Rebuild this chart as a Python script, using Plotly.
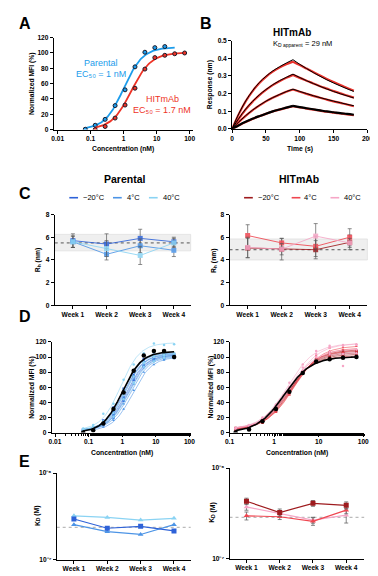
import numpy as np
import plotly.graph_objects as go

W, H = 378, 576
def px(x): return x / W
def py(y): return 1 - y / H

FONT = "Liberation Sans, Arial, sans-serif"
TICKFONT = dict(family=FONT, size=6.6, color="black", weight="bold")

# ---------------- Panel A ----------------
A_CONC_PARENTAL = [0.0686, 0.137, 0.274, 0.549, 1.10, 2.20, 4.39, 8.78, 17.6]
A_MFI_PARENTAL = [0.4, 5.6, 13.3, 31.3, 51.9, 81.9, 101.0, 107.0, 108.4]
A_CONC_HIT = [0.137, 0.274, 0.549, 1.10, 2.20, 4.39, 8.78, 17.6, 35.1, 70.2]
A_MFI_HIT = [0.0, 4.0, 15.0, 32.0, 54.0, 79.0, 94.0, 97.0, 99.0, 100.0]
# fitted curve parameters: ec50, top, bottom, hill, x-start, x-end
A_FIT_PARENTAL = [1.0, 107.5, 0.0, 1.5, 0.0686, 35.1]
A_FIT_HIT = [1.7, 100.5, 0.0, 1.45, 0.137, 70.2]

# ---------------- Panel B ----------------
B_T_ASSOC = [0, 10, 20, 30, 40, 50, 60, 70, 80, 90]
B_T_DISSOC = [90, 100, 110, 120, 130, 140, 150, 160, 170, 180]
B_FIT_ASSOC = [
    [0, 0.087, 0.158, 0.215, 0.262, 0.298, 0.328, 0.352, 0.373, 0.392],
    [0, 0.060, 0.112, 0.155, 0.192, 0.223, 0.250, 0.273, 0.292, 0.310],
    [0, 0.040, 0.075, 0.106, 0.133, 0.157, 0.177, 0.195, 0.211, 0.225],
    [0, 0.021, 0.040, 0.057, 0.072, 0.086, 0.099, 0.110, 0.120, 0.130],
]
B_FIT_DISSOC = [
    [0.392, 0.366, 0.342, 0.319, 0.298, 0.278, 0.260, 0.243, 0.227, 0.212],
    [0.310, 0.291, 0.273, 0.257, 0.241, 0.226, 0.212, 0.199, 0.187, 0.175],
    [0.225, 0.212, 0.200, 0.188, 0.177, 0.167, 0.157, 0.148, 0.139, 0.131],
    [0.130, 0.123, 0.117, 0.111, 0.105, 0.099, 0.094, 0.089, 0.085, 0.080],
]
B_DATA_ASSOC = [
    [0, 0.085, 0.156, 0.213, 0.259, 0.295, 0.324, 0.347, 0.366, 0.381],
    [0, 0.058, 0.110, 0.153, 0.190, 0.221, 0.248, 0.270, 0.289, 0.306],
    [0, 0.039, 0.074, 0.105, 0.132, 0.156, 0.176, 0.194, 0.210, 0.223],
    [0, 0.020, 0.039, 0.056, 0.071, 0.085, 0.098, 0.109, 0.119, 0.128],
]
B_DATA_DISSOC = [
    [0.381, 0.362, 0.342, 0.322, 0.302, 0.283, 0.265, 0.248, 0.232, 0.216],
    [0.306, 0.289, 0.273, 0.257, 0.242, 0.228, 0.214, 0.201, 0.189, 0.177],
    [0.223, 0.210, 0.198, 0.187, 0.176, 0.166, 0.156, 0.147, 0.138, 0.128],
    [0.128, 0.121, 0.115, 0.109, 0.103, 0.097, 0.092, 0.087, 0.082, 0.077],
]

# ---------------- Panel C ----------------
WEEKS = ["Week 1", "Week 2", "Week 3", "Week 4"]
WEEK_POS = [1, 2, 3, 4]
TEMPS = ["\u221220\u00b0C", "4\u00b0C", "40\u00b0C"]
C_PAR_RH = [[5.7, 5.4, 5.9, 5.6], [5.6, 4.5, 5.25, 4.85], [5.6, 5.0, 4.4, 5.5]]
C_PAR_ERR = [[0.6, 0.9, 0.8, 0.4], [0.5, 0.5, 0.6, 0.55], [0.5, 0.7, 0.8, 0.4]]
C_PAR_BAND = [4.8, 6.25]
C_PAR_REF = 5.5
C_HIT_RH = [[5.05, 4.95, 4.9, 5.55], [6.15, 5.5, 5.2, 6.0], [5.1, 4.95, 6.1, 5.5]]
C_HIT_ERR = [[0.85, 0.95, 0.8, 0.65], [0.95, 0.4, 0.9, 0.75], [0.9, 0.5, 1.1, 0.4]]
C_HIT_BAND = [4.0, 5.85]
C_HIT_REF = 4.9

# ---------------- Panel D ----------------
D_CONC_PAR = [0.0686, 0.137, 0.274, 0.549, 1.10, 2.20, 4.39, 8.78, 17.6, 35.1]
D_REF_PAR = [0, 3, 12, 31, 53, 82, 102, 108, 108, 100]
D_REF_PAR_FIT = [1.0, 107.5, 0.0, 1.5]
# per temperature, per week: ec50, top, bottom
D_PAR_FITS = [
    [[1.1, 104, 2], [1.3, 103, 2], [1.0, 106, 1], [1.5, 102, 3]],
    [[1.2, 105, 2], [1.7, 101, 3], [2.0, 100, 2], [1.4, 103, 2]],
    [[0.9, 119, 3], [1.2, 104, 2], [1.6, 102, 4], [1.05, 106, 2]],
]
D_PAR_PTS = [
    [[3, 7, 14, 27, 55, 76, 95, 99, 103, 102],
     [4, 5, 12, 24, 46, 74, 88, 98, 100, 101],
     [2, 6, 16, 33, 58, 80, 97, 103, 104, 104],
     [4, 6, 10, 20, 42, 70, 88, 95, 99, 100]],
    [[3, 6, 13, 25, 52, 75, 93, 102, 103, 103],
     [4, 5, 9, 18, 38, 64, 86, 95, 97, 99],
     [3, 4, 7, 16, 31, 56, 80, 90, 96, 98],
     [3, 5, 11, 22, 47, 70, 90, 96, 100, 101]],
    [[5, 10, 25, 38, 70, 90, 105, 118, 116, 117],
     [3, 6, 12, 26, 50, 74, 92, 100, 102, 102],
     [5, 7, 11, 21, 44, 66, 87, 94, 99, 100],
     [4, 7, 15, 31, 57, 81, 93, 103, 104, 105]],
]
D_CONC_HIT = [0.137, 0.274, 0.549, 1.10, 2.20, 4.39, 8.78, 17.6, 35.1, 70.2]
D_REF_HIT = [0, 4, 15, 31, 54, 79, 94, 97, 99, 100]
D_REF_HIT_FIT = [1.7, 100.5, 0.0, 1.45]
D_HIT_FITS = [
    [[2.2, 108, 3], [2.0, 104, 2], [2.4, 110, 3], [2.1, 106, 4]],
    [[2.6, 112, 4], [1.9, 102, 2], [2.8, 115, 5], [2.3, 109, 3]],
    [[2.0, 118, 4], [1.8, 106, 3], [2.5, 118, 5], [2.2, 111, 4]],
]
D_HIT_PTS = [
    [[5, 8, 15, 29, 57, 79, 97, 104, 105, 107],
     [4, 7, 14, 32, 55, 78, 95, 100, 101, 103],
     [4, 7, 13, 28, 52, 81, 97, 106, 108, 108],
     [6, 9, 17, 30, 57, 78, 96, 102, 104, 105]],
    [[5, 8, 13, 27, 50, 80, 99, 108, 110, 110],
     [4, 7, 16, 33, 58, 78, 93, 97, 100, 101],
     [6, 8, 14, 27, 50, 82, 102, 112, 113, 114],
     [5, 7, 14, 30, 54, 79, 95, 105, 106, 108]],
    [[6, 10, 20, 37, 66, 90, 108, 115, 116, 117],
     [5, 9, 18, 36, 60, 82, 95, 104, 104, 105],
     [6, 9, 16, 30, 56, 86, 104, 113, 115, 116],
     [5, 9, 16, 32, 59, 82, 100, 107, 88, 110]],
]
D_HILL_PAR = 1.5
D_HILL_HIT = 1.45

# ---------------- Panel E ----------------
E_PAR_KD = [[2.94e-7, 2.30e-7, 2.42e-7, 2.14e-7],
            [2.53e-7, 2.10e-7, 1.95e-7, 2.53e-7],
            [3.20e-7, 3.07e-7, 2.86e-7, 3.00e-7]]
E_PAR_REF = 2.36e-7
E_HIT_KD = [[4.30e-7, 3.23e-7, 4.08e-7, 3.88e-7],
            [2.97e-7, 2.90e-7, 2.58e-7, 3.43e-7],
            [3.72e-7, 3.15e-7, 2.66e-7, 3.02e-7]]
E_HIT_ERR = [[0.35e-7, 0.30e-7, 0.30e-7, 0.35e-7],
             [0.30e-7, 0.20e-7, 0.25e-7, 0.30e-7],
             [0.30e-7, 0.20e-7, 0.20e-7, 0.55e-7]]
E_HIT_REF = 2.85e-7
E_TICKVALS = [1e-7, 1e-6]
E_TICKTEXT = ["10\u207b\u2077", "10\u207b\u2076"]

BLUES = ["#2E62D8", "#4C94E6", "#8AD3F3"]
REDS = ["#9E1B1E", "#EF4650", "#F6A6C6"]
A_BLUE = "#1C9CEB"
A_RED = "#EE3326"
SYMS = ["square", "triangle-up", "circle"]


def hill(x, ec50, top, bottom, h):
    x = np.asarray(x, dtype=float)
    return bottom + (top - bottom) / (1.0 + (ec50 / x) ** h)


def grid(x0, x1):
    return np.logspace(np.log10(x0), np.log10(x1), 120)


fig = go.Figure()

# ---- A ----
for fitp, conc, mfi, col in [(A_FIT_PARENTAL, A_CONC_PARENTAL, A_MFI_PARENTAL, A_BLUE),
                             (A_FIT_HIT, A_CONC_HIT, A_MFI_HIT, A_RED)]:
    xs = grid(fitp[4], fitp[5])
    fig.add_trace(go.Scatter(x=xs, y=hill(xs, *fitp[:4]), mode="lines",
                             line=dict(color=col, width=1.8), xaxis="x", yaxis="y", showlegend=False))
    fig.add_trace(go.Scatter(x=conc, y=mfi, mode="markers",
                             marker=dict(color=col, size=4, line=dict(color="#1a1a2a", width=1)),
                             xaxis="x", yaxis="y", showlegend=False))

# ---- B ----
for i in range(4):
    fig.add_trace(go.Scatter(x=B_T_ASSOC, y=B_DATA_ASSOC[i], mode="lines", line=dict(color="#E8302A", width=2.2, shape="spline"),
                             xaxis="x2", yaxis="y2", showlegend=False))
    fig.add_trace(go.Scatter(x=B_T_DISSOC, y=B_DATA_DISSOC[i], mode="lines", line=dict(color="#E8302A", width=2.2, shape="spline"),
                             xaxis="x2", yaxis="y2", showlegend=False))
for i in range(4):
    w = 2.2 if i == 3 else 1.0
    fig.add_trace(go.Scatter(x=B_T_ASSOC, y=B_FIT_ASSOC[i], mode="lines", line=dict(color="black", width=w, shape="spline"),
                             xaxis="x2", yaxis="y2", showlegend=False))
    fig.add_trace(go.Scatter(x=B_T_DISSOC, y=B_FIT_DISSOC[i], mode="lines", line=dict(color="black", width=w, shape="spline"),
                             xaxis="x2", yaxis="y2", showlegend=False))

# ---- C ----
shapes = []
for (xa, ya, band, ref, vals, errs, cols) in [
        ("x3", "y3", C_PAR_BAND, C_PAR_REF, C_PAR_RH, C_PAR_ERR, BLUES),
        ("x4", "y4", C_HIT_BAND, C_HIT_REF, C_HIT_RH, C_HIT_ERR, REDS)]:
    shapes.append(dict(type="rect", xref=xa + " domain", yref=ya, x0=0, x1=1, y0=band[0], y1=band[1],
                       fillcolor="#EFEFEF", line=dict(color="#D8D8D8", width=0.6), layer="below"))
    shapes.append(dict(type="line", xref=xa + " domain", yref=ya, x0=0, x1=1, y0=ref, y1=ref,
                       line=dict(color="#555555", width=1, dash="dot"), layer="below"))
    for k in range(3):
        fig.add_trace(go.Scatter(x=WEEK_POS, y=vals[k], mode="lines+markers",
                                 line=dict(color=cols[k], width=1.0),
                                 marker=dict(symbol="square", size=5, color=cols[k]),
                                 error_y=dict(type="data", array=errs[k], color="#555555", thickness=0.8, width=2),
                                 xaxis=xa, yaxis=ya, showlegend=False, opacity=0.85))

# ---- D ----
for (xa, ya, conc, fits, pts, cols, hh, ref, reffit) in [
        ("x5", "y5", D_CONC_PAR, D_PAR_FITS, D_PAR_PTS, BLUES, D_HILL_PAR, D_REF_PAR, D_REF_PAR_FIT),
        ("x6", "y6", D_CONC_HIT, D_HIT_FITS, D_HIT_PTS, REDS, D_HILL_HIT, D_REF_HIT, D_REF_HIT_FIT)]:
    xs = grid(conc[0], conc[-1])
    for k in range(3):
        for wk in range(4):
            e, t, b = fits[k][wk]
            fig.add_trace(go.Scatter(x=xs, y=hill(xs, e, t, b, hh), mode="lines",
                                     line=dict(color=cols[k], width=0.7), opacity=0.8,
                                     xaxis=xa, yaxis=ya, showlegend=False))
            fig.add_trace(go.Scatter(x=conc, y=pts[k][wk], mode="markers",
                                     marker=dict(symbol=SYMS[k], size=2.5, color=cols[k]),
                                     xaxis=xa, yaxis=ya, showlegend=False))
    fig.add_trace(go.Scatter(x=xs, y=hill(xs, *reffit), mode="lines", line=dict(color="black", width=1.6),
                             xaxis=xa, yaxis=ya, showlegend=False))
    fig.add_trace(go.Scatter(x=conc, y=ref, mode="markers", marker=dict(color="black", size=4.5),
                             xaxis=xa, yaxis=ya, showlegend=False))

# ---- E ----
shapes.append(dict(type="line", xref="x7 domain", yref="y7", x0=0, x1=1, y0=E_PAR_REF, y1=E_PAR_REF,
                   line=dict(color="#BBBBBB", width=1.2, dash="dot"), layer="below"))
shapes.append(dict(type="line", xref="x8 domain", yref="y8", x0=0, x1=1, y0=E_HIT_REF, y1=E_HIT_REF,
                   line=dict(color="#BBBBBB", width=1.2, dash="dot"), layer="below"))
E_PAR_SYM = ["square", "triangle-up", "triangle-up"]
for k in [2, 1, 0]:
    fig.add_trace(go.Scatter(x=WEEK_POS, y=E_PAR_KD[k], mode="lines+markers",
                             line=dict(color=BLUES[k], width=1.2),
                             marker=dict(symbol=E_PAR_SYM[k], size=5, color=BLUES[k]),
                             xaxis="x7", yaxis="y7", showlegend=False))
E_HIT_SYM = ["square", "triangle-up", "triangle-up"]
for k in [2, 1, 0]:
    fig.add_trace(go.Scatter(x=WEEK_POS, y=E_HIT_KD[k], mode="lines+markers",
                             line=dict(color=REDS[k], width=1.2),
                             marker=dict(symbol=E_HIT_SYM[k], size=5, color=REDS[k]),
                             error_y=dict(type="data", array=E_HIT_ERR[k], color="#666666", thickness=0.8, width=2),
                             xaxis="x8", yaxis="y8", showlegend=False))

# ---------------- axes ----------------
def ax(**kw):
    base = dict(showline=True, linecolor="black", linewidth=1, ticks="outside", ticklen=3,
                tickwidth=1, tickcolor="black", showgrid=False, zeroline=False,
                tickfont=TICKFONT, fixedrange=True)
    base.update(kw)
    return base

def dx(a, b): return [px(a), px(b)]
def dy(top, bottom): return [py(bottom), py(top)]

LOGV = [0.01, 0.1, 1, 10, 100]
LOGT = ["0.01", "0.1", "1", "10", "100"]
MINOR = dict(ticks="outside", ticklen=2, tickcolor="black", tickwidth=0.8, showgrid=False)

layout = dict(
    width=W, height=H, margin=dict(l=0, r=0, t=0, b=0),
    paper_bgcolor="white", plot_bgcolor="white", showlegend=False,
    font=dict(family=FONT, color="black"),
    xaxis=ax(domain=dx(42, 185), type="log", range=[-2.118, 2.088], tickvals=LOGV, ticktext=LOGT, anchor="y"),
    yaxis=ax(domain=dy(26, 119), range=[0, 120], tickvals=[0, 20, 40, 60, 80, 100, 120], anchor="x"),
    xaxis2=ax(domain=dx(225.7, 365), range=[0, 200], tickvals=[0, 50, 100, 150, 200], anchor="y2"),
    yaxis2=ax(domain=dy(29, 118.3), range=[0, 0.5], tickvals=[0, 0.1, 0.2, 0.3, 0.4, 0.5], tickformat=".1f", anchor="x2"),
    xaxis3=ax(domain=dx(43, 183), range=[0.46, 4.5], tickvals=WEEK_POS, ticktext=WEEKS, anchor="y3"),
    yaxis3=ax(domain=dy(205, 297), range=[0, 8], tickvals=[0, 2, 4, 6, 8], anchor="x3"),
    xaxis4=ax(domain=dx(223, 365), range=[0.466, 4.52], tickvals=WEEK_POS, ticktext=WEEKS, anchor="y4"),
    yaxis4=ax(domain=dy(205, 297), range=[0, 8], tickvals=[0, 2, 4, 6, 8], anchor="x4"),
    xaxis5=ax(domain=dx(40, 183), type="log", range=[-2.095, 2.038], tickvals=LOGV, ticktext=LOGT, anchor="y5", minor=MINOR),
    yaxis5=ax(domain=dy(334, 425.7), range=[0, 120], tickvals=[0, 20, 40, 60, 80, 100, 120], anchor="x5"),
    xaxis6=ax(domain=dx(223, 361.7), type="log", range=[-1, 2.02], tickvals=[0.1, 1, 10, 100], ticktext=["0.1", "1", "10", "100"], anchor="y6", minor=MINOR),
    yaxis6=ax(domain=dy(334, 425.7), range=[0, 120], tickvals=[0, 20, 40, 60, 80, 100, 120], anchor="x6"),
    xaxis7=ax(domain=dx(45, 183), range=[0.484, 4.5], tickvals=WEEK_POS, ticktext=WEEKS, anchor="y7"),
    yaxis7=ax(domain=dy(466.7, 554.3), type="log", range=[-7, -6], tickvals=E_TICKVALS,
              ticktext=E_TICKTEXT, anchor="x7"),
    xaxis8=ax(domain=dx(223, 361.7), range=[0.49, 4.54], tickvals=WEEK_POS, ticktext=WEEKS, anchor="y8"),
    yaxis8=ax(domain=dy(461.7, 553.3), type="log", range=[-7, -6], tickvals=E_TICKVALS,
              ticktext=E_TICKTEXT, anchor="x8"),
)

ann = []
def txt(x, y, s, size=7, color="black", angle=0, xanchor="center", bold=True):
    ann.append(dict(x=px(x), y=py(y), xref="paper", yref="paper", text=("<b>%s</b>" % s) if bold else s,
                    showarrow=False, xanchor=xanchor, yanchor="middle", textangle=angle,
                    font=dict(family=FONT, size=size, color=color)))

def kd_vertical(cx, cy):
    # rotated "K_D (M)" built from pieces, reading bottom to top
    base = cy + 10.4
    txt(cx, base - 2.5, "K", size=6.8, angle=-90)
    txt(cx + 1.6, base - 6.8, "D", size=5, angle=-90)
    txt(cx, base - 15.8, "(M)", size=6.8, angle=-90)

# panel letters
for L, x, y in [("A", 12, 12), ("B", 199, 12), ("C", 12, 184), ("D", 12, 308), ("E", 12, 455)]:
    txt(x, y, L, size=16)

# axis titles
txt(19, 72.5, "Normalized MFI (%)", size=6.8, angle=-90)
txt(113, 139, "Concentration (nM)", size=6.8)
txt(203, 74, "Response (nm)", size=6.8, angle=-90)
txt(296, 139, "Time (s)", size=6.8)
txt(26, 251, "R\u2095 (nm)", size=6.8, angle=-90)
txt(207, 251, "R\u2095 (nm)", size=6.8, angle=-90)
txt(20, 380, "Normalized MFI (%)", size=6.8, angle=-90)
txt(204, 380, "Normalized MFI (%)", size=6.8, angle=-90)
txt(112, 446, "Concentration (nM)", size=6.8)
txt(292, 446, "Concentration (nM)", size=6.8)
kd_vertical(25, 510)
kd_vertical(205, 507)

# A labels
txt(91, 51.5, "Parental", size=9, color=A_BLUE, bold=False)
txt(91, 62.5, "EC\u2085\u2080 = 1 nM", size=9, color=A_BLUE, bold=False)
txt(154, 88, "HITmAb", size=9, color=A_RED, bold=False)
txt(153, 99, "EC\u2085\u2080 = 1.7 nM", size=9, color=A_RED, bold=False)

# B titles
txt(287, 20.5, "HITmAb", size=10)
txt(266, 31.5, "K", size=7.5, xanchor="left", bold=False)
txt(271.3, 33.5, "D apparent", size=5, xanchor="left", bold=False)
txt(298.5, 31.5, "= 29 nM", size=7.5, xanchor="left", bold=False)

# C titles and legends
txt(115, 169, "Parental", size=10.5)
txt(295, 169, "HITmAb", size=10.5)
for (lx, tx), col, lab in zip([(58, 70), (103, 115), (140, 152)], BLUES, TEMPS):
    shapes.append(dict(type="line", xref="paper", yref="paper", x0=px(lx), x1=px(lx + 9), y0=py(188), y1=py(188),
                       line=dict(color=col, width=1.6)))
    txt(tx, 188, lab, size=7.5, xanchor="left", bold=False)
for (lx, tx), col, lab in zip([(238, 250), (287, 298), (327, 339)], REDS, TEMPS):
    shapes.append(dict(type="line", xref="paper", yref="paper", x0=px(lx), x1=px(lx + 9), y0=py(188), y1=py(188),
                       line=dict(color=col, width=1.6)))
    txt(tx, 188, lab, size=7.5, xanchor="left", bold=False)

layout["annotations"] = ann
layout["shapes"] = shapes
fig.update_layout(**layout)
fig.write_html("out.html")
